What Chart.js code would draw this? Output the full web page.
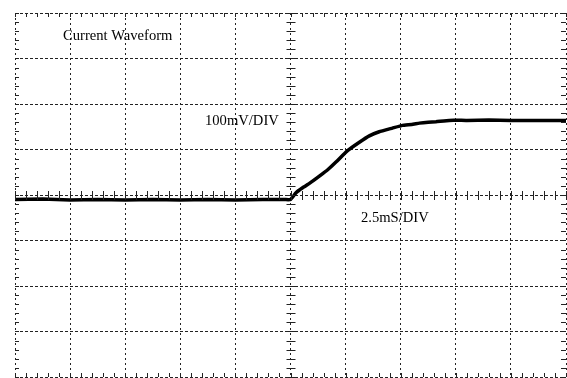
<!DOCTYPE html>
<html>
<head>
<meta charset="utf-8">
<script src="https://cdn.jsdelivr.net/npm/chart.js@4/dist/chart.umd.min.js"></script>
<style>
  html, body { margin: 0; padding: 0; background: #fff; }
  #wrap { width: 567px; height: 378px; }
</style>
</head>
<body>
<div id="wrap"><canvas id="scope"></canvas></div>
<script>
// time in divisions (2.5 mS/DIV), current in divisions (100 mV/DIV)
const timeDiv = [0, 0.5, 1, 1.5, 2, 2.5, 3, 3.5, 4, 4.5, 4.9, 5.0,
  5.1, 5.22, 5.35, 5.53, 5.68, 5.83, 6.03, 6.25, 6.43, 6.61, 6.85,
  7.03, 7.2, 7.34, 7.5, 7.64, 7.88, 8.2, 8.6, 9.0, 9.4, 9.7, 10];
const currentDiv = [-0.1, -0.09, -0.11, -0.1, -0.11, -0.1, -0.11, -0.1, -0.11, -0.1, -0.1, -0.1,
  0.05, 0.16, 0.26, 0.42, 0.56, 0.73, 0.97, 1.16, 1.30, 1.39, 1.47,
  1.53, 1.55, 1.58, 1.6, 1.61, 1.64, 1.64, 1.65, 1.64, 1.64, 1.64, 1.64];

const xDivs = [0, 10];
const yDivs = [-4, 4];
const labels = [
  { text: 'Current Waveform', x: 63, y: 36 },
  { text: '100mV/DIV', x: 205, y: 121 },
  { text: '2.5mS/DIV', x: 361, y: 218 }
];

// minor ticks on centre axes and on the frame, plus the scope captions
const scopeDecor = {
  id: 'scopeDecor',
  afterDatasetsDraw(chart) {
    const ctx = chart.ctx;
    const xs = chart.scales.x, ys = chart.scales.y;
    const cx = xs.getPixelForValue(5), cy = ys.getPixelForValue(0);
    const a = chart.chartArea;
    ctx.save();
    ctx.strokeStyle = '#222';
    ctx.lineWidth = 1;
    ctx.beginPath();
    for (let v = xDivs[0]; v <= xDivs[1] + 0.001; v += 0.2) {
      const px = Math.round(xs.getPixelForValue(v)) + 0.5;
      ctx.moveTo(px, cy - 4); ctx.lineTo(px, cy + 5);
      ctx.moveTo(px, a.top); ctx.lineTo(px, a.top + 4);
      ctx.moveTo(px, a.bottom); ctx.lineTo(px, a.bottom - 4);
    }
    for (let v = yDivs[0]; v <= yDivs[1] + 0.001; v += 0.2) {
      const py = Math.round(ys.getPixelForValue(v)) + 0.5;
      ctx.moveTo(cx - 4, py); ctx.lineTo(cx + 5, py);
      ctx.moveTo(a.left, py); ctx.lineTo(a.left + 4, py);
      ctx.moveTo(a.right, py); ctx.lineTo(a.right - 5, py);
    }
    ctx.stroke();
    ctx.fillStyle = '#000';
    ctx.font = '14.6px "Liberation Serif", serif';
    ctx.textBaseline = 'middle';
    labels.forEach(l => ctx.fillText(l.text, l.x, l.y));
    ctx.restore();
  }
};

new Chart(document.getElementById('scope'), {
  type: 'line',
  data: {
    datasets: [{
      data: timeDiv.map((t, i) => ({ x: t, y: currentDiv[i] })),
      borderColor: '#000',
      borderWidth: 3.5,
      pointRadius: 0,
      tension: 0.1
    }]
  },
  options: {
    animation: false,
    responsive: true,
    maintainAspectRatio: false,
    layout: { padding: { left: 15, top: 13, right: 1, bottom: 1 } },
    plugins: { legend: { display: false }, tooltip: { enabled: false } },
    scales: {
      x: {
        type: 'linear', min: xDivs[0], max: xDivs[1],
        ticks: { display: false, stepSize: 1 },
        grid: { color: '#222', drawTicks: false },
        border: { display: false, dash: [2, 3] }
      },
      y: {
        min: yDivs[0], max: yDivs[1],
        ticks: { display: false, stepSize: 1 },
        grid: { color: '#222', drawTicks: false },
        border: { display: false, dash: [3, 2] }
      }
    }
  },
  plugins: [scopeDecor]
});
</script>
</body>
</html>
